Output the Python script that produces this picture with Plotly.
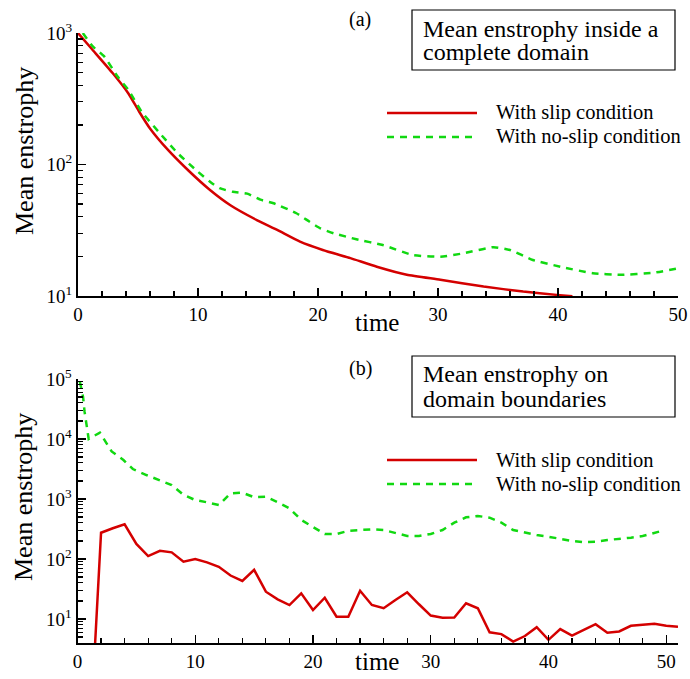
import plotly.graph_objects as go

# ---------------- data ----------------
top_t_slip = [0, 1.1, 2.9, 4.2, 5.1, 6, 7.5, 9.2, 11, 12.7, 14.9, 16.6, 18.5, 20.4,
              22.7, 24.9, 27.4, 30.2, 33.8, 37.1, 39.9, 41.2]
top_v_slip = [1000, 765, 494, 347, 252, 188, 129, 90, 64, 49, 37.8, 31.8, 25.9, 22.4,
              19.4, 16.7, 14.5, 13.3, 11.8, 10.8, 10.2, 9.95]

top_t_noslip = [0.4, 1.25, 2.2, 3.3, 4.2, 5.3, 6.7, 8.3, 10, 11, 11.8, 12.9, 14.1, 15.2,
                16.3, 18.2, 19.3, 20.2, 21.3, 23.2, 25.4, 27.9, 30.2, 32.1, 34.6, 36,
                37.9, 40.2, 42.9, 45.2, 47.9, 50]
top_v_noslip = [1000, 787, 661, 466, 369, 252, 178, 122, 88, 74, 66, 62, 60, 54, 50.7,
                42.6, 36.7, 32.7, 30, 27, 24.4, 20.5, 19.9, 21.1, 23.5, 22.4, 18.8,
                16.7, 14.9, 14.5, 15.0, 16.2]

bot_t_slip = list(range(1, 52))
bot_v_slip = [0.06, 274, 325, 379, 178, 112, 137, 129, 90, 100, 88, 74, 53, 43, 66,
              28.5, 21.3, 17.1, 26.8, 14.1, 22.6, 10.9, 10.9, 29.6, 17.1, 15.1, 20.7,
              27.9, 17.6, 11.4, 10.5, 10.6, 18.3, 15.1, 6.0, 5.6, 4.2, 5.2, 7.3, 4.5,
              6.8, 5.3, 6.6, 8.2, 5.9, 6.2, 7.7, 7.9, 8.3, 7.7, 7.4]

bot_t_noslip = [0.2, 0.47, 0.6, 0.75, 0.95, 1.9, 2.3, 2.9, 3.9, 4.7, 5.85, 7, 8, 9, 10,
                11, 12, 13, 14, 15, 16, 17, 18, 19, 20, 21, 22, 23, 24, 25, 26, 27, 28,
                29, 30, 31, 32, 33, 34, 35, 36, 37, 38, 39, 40, 41, 42, 43, 44, 45, 46,
                47, 48, 49.4]
bot_v_noslip = [90000, 50700, 28500, 18200, 10000, 12800, 9600, 6200, 4470, 3160, 2510,
                2070, 1710, 1170, 960, 880, 794, 1240, 1275, 1070, 1090, 880, 700, 447,
                346, 261, 261, 295, 304, 312, 304, 275, 242, 242, 261, 304, 403, 495,
                521, 489, 403, 304, 275, 251, 235, 215, 200, 190, 195, 207, 215, 227,
                242, 286]

series_names = ["With slip condition", "With no-slip condition"]
box_texts_a = ["Mean enstrophy inside a", "complete domain"]
box_texts_b = ["Mean enstrophy on", "domain boundaries"]
panel_labels = ["(a)", "(b)"]
y_title = "Mean enstrophy"
x_title = "time"
top_yticks = [10, 100, 1000]
top_yticktext = ["10<sup>1</sup>", "10<sup>2</sup>", "10<sup>3</sup>"]
bot_yticks = [10, 100, 1000, 10000, 100000]
bot_yticktext = ["10<sup>1</sup>", "10<sup>2</sup>", "10<sup>3</sup>",
                 "10<sup>4</sup>", "10<sup>5</sup>"]

# ---------------- styling ----------------
W, H = 690, 679
RED = "#d40000"
GREEN = "#11d811"
FONT = "Liberation Serif"
LW = 2.5


def X(px):
    return px / W


def Y(py):
    return 1 - py / H


def minor_vals(lo_exp, hi_exp):
    vals = []
    for e in range(lo_exp, hi_exp + 1):
        for m in range(2, 10):
            vals.append(m * 10 ** e)
    return vals


fig = go.Figure()

fig.add_trace(go.Scatter(x=top_t_slip, y=top_v_slip, mode="lines",
                         line=dict(color=RED, width=LW, shape="spline", smoothing=0.5),
                         xaxis="x", yaxis="y", showlegend=False))
fig.add_trace(go.Scatter(x=top_t_noslip, y=top_v_noslip, mode="lines",
                         line=dict(color=GREEN, width=LW, dash="7px,6px", shape="spline", smoothing=0.5),
                         xaxis="x", yaxis="y", showlegend=False))
fig.add_trace(go.Scatter(x=bot_t_slip, y=bot_v_slip, mode="lines",
                         line=dict(color=RED, width=LW),
                         xaxis="x2", yaxis="y2", showlegend=False))
fig.add_trace(go.Scatter(x=bot_t_noslip, y=bot_v_noslip, mode="lines",
                         line=dict(color=GREEN, width=LW, dash="7px,6px"),
                         xaxis="x2", yaxis="y2", showlegend=False))

axis_common = dict(showline=True, linecolor="black", linewidth=2, showgrid=False,
                   zeroline=False, ticks="inside", ticklen=8, tickwidth=1.2,
                   tickcolor="black", mirror=False, automargin=False,
                   ticklabeloverflow="allow",
                   tickfont=dict(family=FONT, size=19, color="black"))

fig.update_layout(
    width=W, height=H,
    margin=dict(l=0, r=0, t=0, b=0, autoexpand=False),
    paper_bgcolor="white", plot_bgcolor="white",
    showlegend=False,
    hovermode=False,
    xaxis=dict(domain=[X(78), X(678)], anchor="y", range=[0, 50], dtick=10, tick0=0,
               minor=dict(ticks="inside", ticklen=5, dtick=2, tick0=0, tickcolor="black", tickwidth=1.2),
               **axis_common),
    yaxis=dict(domain=[Y(296), Y(33)], anchor="x", type="log", range=[1, 3],
               tickvals=top_yticks, ticktext=top_yticktext,
               minor=dict(ticks="inside", ticklen=5, tickvals=minor_vals(1, 2), tickcolor="black", tickwidth=1.2),
               **axis_common),
    xaxis2=dict(domain=[X(77.5), X(678)], anchor="y2", range=[0, 51], dtick=10, tick0=0,
                minor=dict(ticks="inside", ticklen=5, dtick=2, tick0=0, tickcolor="black", tickwidth=1.2),
                **axis_common),
    yaxis2=dict(domain=[Y(643), Y(379)], anchor="x2", type="log", range=[0.6, 5],
                tickvals=bot_yticks, ticktext=bot_yticktext,
                minor=dict(ticks="inside", ticklen=5, tickvals=minor_vals(0, 4), tickcolor="black", tickwidth=1.2),
                **axis_common),
)

shapes = []
annotations = []


def txt(x, y, s, size, xanchor="center", angle=0):
    annotations.append(dict(x=X(x), y=Y(y), xref="paper", yref="paper", text=s,
                            showarrow=False, xanchor=xanchor, yanchor="middle",
                            textangle=angle,
                            font=dict(family=FONT, size=size, color="black")))


# axis titles
txt(24, 151, y_title, 26, angle=-90)
txt(24, 497, y_title, 26, angle=-90)
txt(377, 322, x_title, 25)
txt(377, 661, x_title, 25)

# panel labels
txt(360, 19, panel_labels[0], 20)
txt(360, 368, panel_labels[1], 20)

# boxes
for (y0, y1, lines, ly) in [(10, 70, box_texts_a, [29, 52.5]),
                            (356, 417, box_texts_b, [374, 399])]:
    shapes.append(dict(type="rect", xref="paper", yref="paper",
                       x0=X(412), x1=X(675), y0=Y(y1), y1=Y(y0),
                       line=dict(color="black", width=1.2), fillcolor="rgba(0,0,0,0)"))
    for s, yy in zip(lines, ly):
        txt(421, yy, s, 24, xanchor="left")

# legends
for (ys, yn) in [(113, 137), (460, 484)]:
    shapes.append(dict(type="line", xref="paper", yref="paper", x0=X(387), x1=X(477),
                       y0=Y(ys), y1=Y(ys), line=dict(color=RED, width=LW)))
    shapes.append(dict(type="line", xref="paper", yref="paper", x0=X(387), x1=X(477),
                       y0=Y(yn), y1=Y(yn), line=dict(color=GREEN, width=LW, dash="7px,6px")))
    txt(494, ys, series_names[0], 20.5, xanchor="left")
    txt(494, yn, series_names[1], 20.5, xanchor="left")

fig.update_layout(shapes=shapes, annotations=annotations)

# remove the default page margin so the figure sits at the window's top-left corner
fig.write_html("out.html",
               config={"displayModeBar": False, "staticPlot": True},
               post_script="document.body.style.margin='0';document.body.style.overflow='hidden';")
